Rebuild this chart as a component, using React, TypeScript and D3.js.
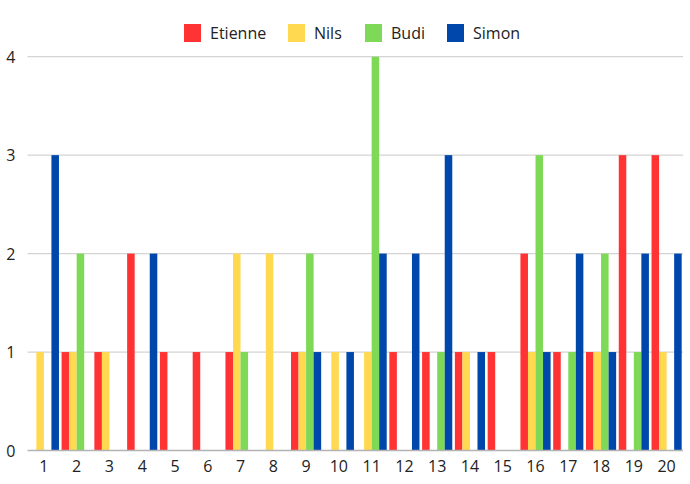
import React from "react";
import * as d3 from "d3";

const categories = ["1","2","3","4","5","6","7","8","9","10","11","12","13","14","15","16","17","18","19","20"];
const seriesNames = ["Etienne", "Nils", "Budi", "Simon"];
const etienne = [0,1,1,2,1,1,1,0,1,0,0,1,1,1,1,2,1,1,3,3];
const nils =    [1,1,1,0,0,0,2,2,1,1,1,0,0,1,0,1,0,1,0,1];
const budi =    [0,2,0,0,0,0,1,0,2,0,4,0,1,0,0,3,1,2,1,0];
const simon =   [3,0,0,2,0,0,0,0,1,1,2,2,3,1,0,1,2,1,2,2];
const seriesValues = [etienne, nils, budi, simon];
const colors = ["#ff3333", "#ffd950", "#7ed957", "#0047ab"];
const yTicks = [0, 1, 2, 3, 4];

const W = 690, H = 484;
const left = 27.5, right = 683, top = 56.7, bottom = 450.5;
const font = "'Open Sans', 'Noto Sans', sans-serif";

export default function App() {
  const x0 = d3.scaleBand<string>().domain(categories).range([left, right]).paddingInner(0.08).paddingOuter(0.04);
  const x1 = d3.scaleBand<string>().domain(seriesNames).range([0, x0.bandwidth()]).padding(0);
  const y = d3.scaleLinear().domain([0, 4]).range([bottom, top]);

  const legendX = [184, 288, 365, 447];

  return (
    <svg width={W} height={H} style={{ position: "absolute", left: 0, top: 0, background: "#fff" }}>
      <rect x={0} y={0} width={W} height={H} fill="#fff" />
      {yTicks.map((t) => (
        <g key={t}>
          {t > 0 && <line x1={left} x2={right} y1={y(t)} y2={y(t)} stroke="#d4d4d4" strokeWidth={1.2} />}
          <text x={15.5} y={y(t) + 6} textAnchor="end" fontFamily={font} fontSize={16} fill="#222">{t}</text>
        </g>
      ))}
      {categories.map((c, i) => (
        <g key={c}>
          {seriesNames.map((s, j) => {
            const v = seriesValues[j][i];
            if (!v) return null;
            return (
              <rect key={s} x={(x0(c) as number) + (x1(s) as number)} width={x1.bandwidth()}
                y={y(v)} height={y(0) - y(v)} fill={colors[j]} />
            );
          })}
          <text x={(x0(c) as number) + x0.bandwidth() / 2} y={472} textAnchor="middle" fontFamily={font} fontSize={16} fill="#222">{c}</text>
        </g>
      ))}
      <line x1={left} x2={right} y1={y(0)} y2={y(0)} stroke="#b3b3b3" strokeWidth={1.5} />
      {seriesNames.map((s, j) => (
        <g key={s}>
          <rect x={legendX[j]} y={24} width={17} height={18} fill={colors[j]} />
          <text x={legendX[j] + 26} y={39} fontFamily={font} fontSize={16} fill="#222">{s}</text>
        </g>
      ))}
    </svg>
  );
}
